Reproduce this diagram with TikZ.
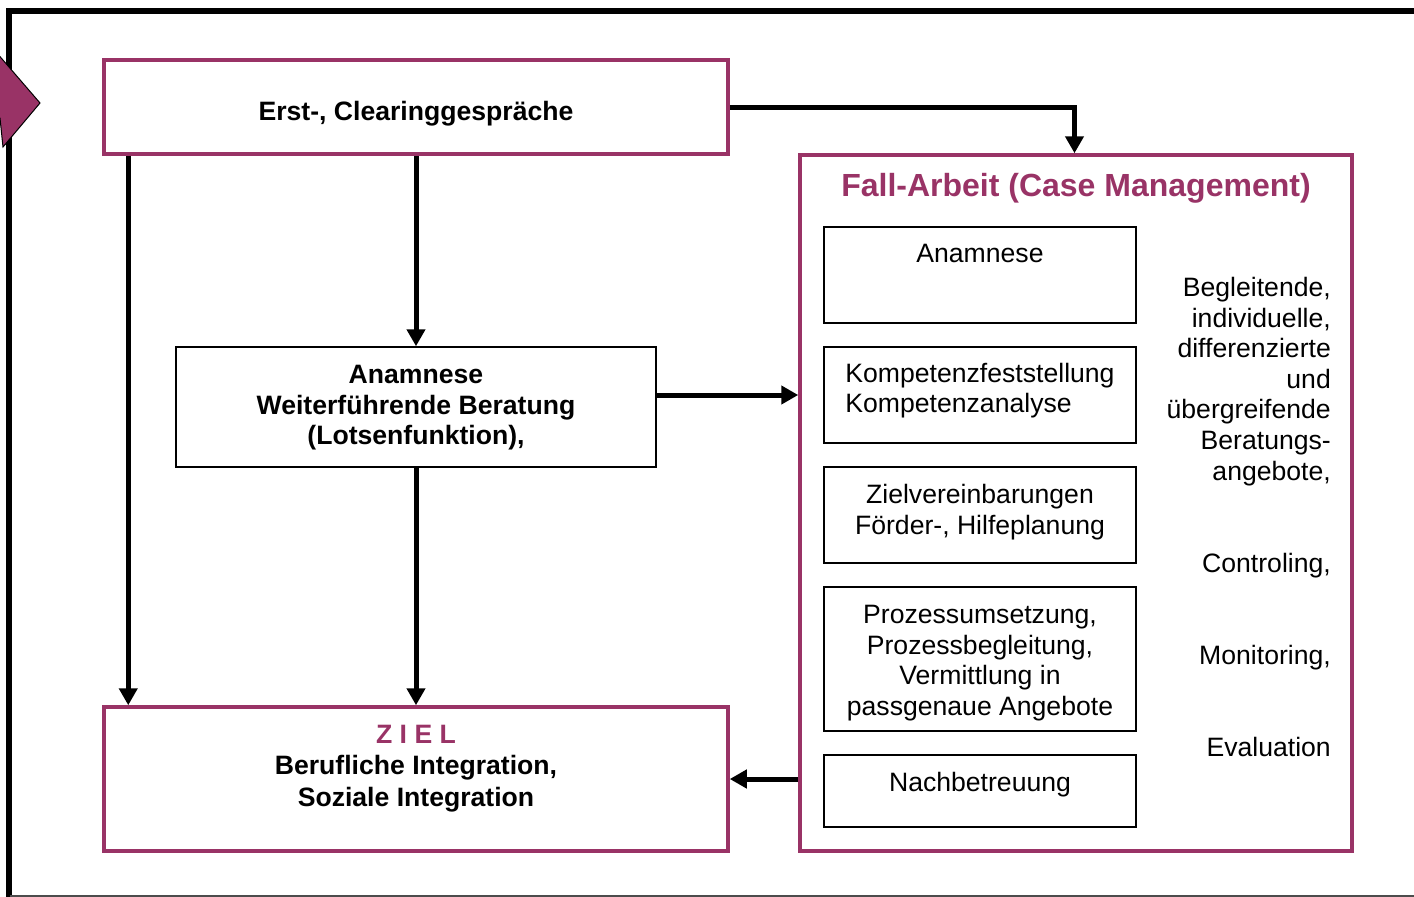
\documentclass[tikz,border=0pt]{standalone}
\usepackage{fontspec}
\setmainfont{Liberation Sans}
\usepackage{tikz}
\usetikzlibrary{arrows.meta,positioning}
\usepackage{xcolor}
\definecolor{pflaume}{RGB}{153,51,102}
\newcommand{\grund}{\fontsize{26.6}{30.6}\selectfont}
\newcommand{\zielschrift}{\fontsize{26.6}{31.5}\selectfont}
\newcommand{\titel}{\fontsize{32}{36.8}\selectfont}

\begin{document}
\begin{tikzpicture}[x=1pt, y=-1pt,
  rahmen/.style={draw=pflaume, line width=3.5pt},
  kasten/.style={draw, line width=1.5pt},
  stufe/.style={kasten, minimum width=312pt},
  kopf/.style={anchor=north, align=center, inner sep=0pt, font=\grund, execute at begin node=\strut},
  seite/.style={anchor=north east, align=right, inner sep=0pt, font=\grund, execute at begin node=\strut},
  pfeil/.style={-{Triangle[length=17pt,width=18pt]}, line width=5pt}]
\useasboundingbox (0,0) rectangle (1414,897);

% Outer frame and entry arrow
\draw[line width=6pt] (9,897) -- (9,11) -- (1414,11);
\draw[line width=1.5pt, black!70] (10,896) -- (1414,896);
\filldraw[fill=pflaume, draw=black, line width=1pt] (-10,45) -- (40,103) -- (3,147) -- (0,118) -- (-10,118) -- cycle;

% Left column
\node[rahmen, minimum width=624pt, minimum height=94pt] (erst) at (416,107) {};
\node[kopf, font=\grund\bfseries, below=41pt of erst.north] (erstT) {Erst-, Clearinggespräche};
\node[kasten, minimum width=480pt, minimum height=120pt] (anam) at (416,407) {};
\node[kopf, font=\grund\bfseries, below=19pt of anam.north] (anamT) {Anamnese\\Weiterführende Beratung\\(Lotsenfunktion),};
\node[rahmen, minimum width=624pt, minimum height=144pt] (ziel) at (416,779) {};
\node[kopf, font=\zielschrift\bfseries, below=19.5pt of ziel.north] (zielT) {\textcolor{pflaume}{Z I E L}\\Berufliche Integration,\\Soziale Integration};

% Case management box
\node[rahmen, minimum width=552pt, minimum height=696pt] (fall) at (1076,503) {};
\node[kopf, font=\titel\bfseries, text=pflaume, below=17.5pt of fall.north] (fallT) {Fall-Arbeit (Case Management)};

\node[stufe, minimum height=96pt] (anamB) at (980,275) {};
\node[stufe, minimum height=96pt, below=22.5pt of anamB] (komp) {};
\node[stufe, minimum height=96pt, below=22.5pt of komp] (ziele) {};
\node[stufe, minimum height=144pt, below=22.5pt of ziele] (proz) {};
\node[stufe, minimum height=72pt, below=22.5pt of proz] (nach) {};

\node[kopf, below=15pt of anamB.north] (anamBT) {Anamnese};
\node[kopf, align=left, below=16.5pt of komp.north] (kompT) {Kompetenzfeststellung\\Kompetenzanalyse};
\node[kopf, below=18pt of ziele.north] (zieleT) {Zielvereinbarungen\\Förder-, Hilfeplanung};
\node[kopf, below=19pt of proz.north] (prozT) {Prozessumsetzung,\\Prozessbegleitung,\\Vermittlung in\\passgenaue Angebote};
\node[kopf, below=16pt of nach.north] (nachT) {Nachbetreuung};

% Side notes
\node[seite] (begl) at (1331,277) {Begleitende,\\individuelle,\\differenzierte\\und\\übergreifende\\Beratungs-\\angebote,};
\node[seite] (contr) at (1331,551) {Controling,};
\node[seite] (monit) at (1331,643) {Monitoring,};
\node[seite] (evalu) at (1331,735) {Evaluation};

% Arrows
\draw[pfeil] ([xshift=26pt]erst.south west) -- ([xshift=26pt]ziel.north west);
\draw[pfeil] (erst.south) -- (anam.north);
\draw[pfeil] (anam.south) -- (ziel.north);
\draw[pfeil] (erst.east) -| ([xshift=-1.5pt]fall.north);
\draw[pfeil] (anam.east |- komp) -- (komp -| fall.west);
\coordinate (rueck) at ([yshift=12pt]nach.west);
\draw[pfeil] (rueck -| fall.west) -- (rueck -| ziel.east);

\end{tikzpicture}
\end{document}
